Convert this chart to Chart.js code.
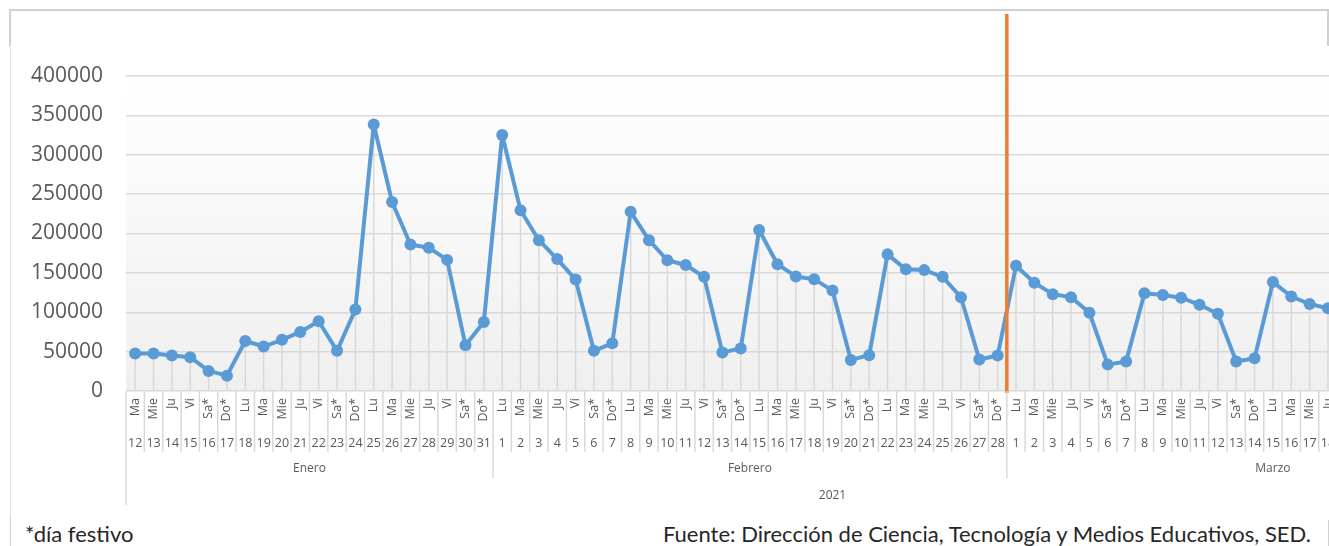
<!DOCTYPE html>
<html lang="es">
<head>
<meta charset="utf-8">
<script src="https://cdn.jsdelivr.net/npm/chart.js@4.4.1/dist/chart.umd.min.js"></script>
<style>
  html, body { margin: 0; padding: 0; background: #fff; overflow: hidden; }
  #wrap { position: relative; width: 1329px; height: 546px; overflow: hidden; }
  canvas { position: absolute; left: 0; top: 0; }
  .linea { position: absolute; background: #d0d0d0; }
  .nota { position: absolute; top: 520px; font-family: Lato, "Open Sans", sans-serif; font-size: 22px; color: #262626; white-space: nowrap; }
</style>
</head>
<body>
<div id="wrap">
  <div class="linea" style="left:9px;top:9px;width:1320px;height:2px"></div>
  <div class="linea" style="left:9px;top:9px;width:2px;height:37px"></div>
  <div class="linea" style="left:10px;top:46px;width:1px;height:472px;background:#e2e2e2"></div>
  <div class="linea" style="left:1327px;top:9px;width:2px;height:37px"></div>
  <div class="linea" style="left:10px;top:515px;width:1px;height:31px"></div>
  <div class="linea" style="left:1328px;top:520px;width:1px;height:26px"></div>
  <canvas id="grafico" width="1545" height="520"></canvas>
  <div class="nota" style="left:25px">*día festivo</div>
  <div class="nota" style="right:18px">Fuente: Dirección de Ciencia, Tecnología y Medios Educativos, SED.</div>
</div>
<script>
// Dias de la semana (* = dia festivo)
const diasEnero = ["Ma","Mie","Ju","Vi","Sa*","Do*","Lu","Ma","Mie","Ju","Vi","Sa*","Do*","Lu","Ma","Mie","Ju","Vi","Sa*","Do*"];
const diasFebrero = ["Lu","Ma","Mie","Ju","Vi","Sa*","Do*","Lu","Ma","Mie","Ju","Vi","Sa*","Do*",
  "Lu","Ma","Mie","Ju","Vi","Sa*","Do*","Lu","Ma","Mie","Ju","Vi","Sa*","Do*"];
const diasMarzo = ["Lu","Ma","Mie","Ju","Vi","Sa*","Do*","Lu","Ma","Mie","Ju","Vi","Sa*","Do*",
  "Lu","Ma","Mie","Ju","Vi","Sa*","Do*","Lu","Ma","Mie","Ju","Vi","Sa*","Do*","Lu"];

const numEnero = [12,13,14,15,16,17,18,19,20,21,22,23,24,25,26,27,28,29,30,31];
const numFebrero = [1,2,3,4,5,6,7,8,9,10,11,12,13,14,15,16,17,18,19,20,21,22,23,24,25,26,27,28];
const numMarzo = [1,2,3,4,5,6,7,8,9,10,11,12,13,14,15,16,17,18,19,20,21,22,23,24,25,26,27,28,29];

const meses = ["Enero", "Febrero", "Marzo"];
const anio = "2021";

// Valores
const valoresEnero = [47500,47500,45000,43000,25500,19500,63500,56500,65000,75000,
  88500,51000,103500,338500,240000,186000,182000,166500,58000,87500];
const valoresFebrero = [325000,229500,191500,167500,141500,51000,60500,227500,191500,166000,
  160000,145000,49000,54000,204500,161000,145500,142000,127500,39500,
  45500,173500,154500,153500,145000,119000,40000,45000];
const valoresMarzo = [159000,137500,123000,119000,99500,33500,37500,124000,122000,118500,
  109500,98000,37500,41500,138500,120000,110500,105000];

const yTicks = [0,50000,100000,150000,200000,250000,300000,350000,400000];

const diasSemana = [...diasEnero, ...diasFebrero, ...diasMarzo];
const diasNum = [...numEnero, ...numFebrero, ...numMarzo];
const gruposMes = [numEnero.length, numFebrero.length, numMarzo.length];
const valores = [...valoresEnero, ...valoresFebrero, ...valoresMarzo];

const gris = "#d9d9d9";
const texto = "#595959";

// fondo degradado del area de trazado
const fondo = {
  id: "fondo",
  beforeDraw(chart) {
    const { ctx, chartArea: a } = chart;
    const g = ctx.createLinearGradient(0, a.top, 0, a.bottom);
    g.addColorStop(0, "#ffffff");
    g.addColorStop(1, "#efefef");
    ctx.save();
    ctx.fillStyle = g;
    ctx.fillRect(a.left, a.top, a.right - a.left, a.bottom - a.top);
    ctx.restore();
  }
};

// lineas de caida desde cada punto
const caida = {
  id: "caida",
  beforeDatasetsDraw(chart) {
    const { ctx, chartArea: a } = chart;
    ctx.save();
    ctx.strokeStyle = gris;
    ctx.lineWidth = 1.5;
    chart.getDatasetMeta(0).data.forEach((p) => {
      if (p.skip) return;
      ctx.beginPath();
      ctx.moveTo(p.x, p.y);
      ctx.lineTo(p.x, a.bottom);
      ctx.stroke();
    });
    ctx.restore();
  }
};

// linea naranja entre febrero y marzo
const corte = {
  id: "corte",
  afterDatasetsDraw(chart) {
    const { ctx, chartArea: a } = chart;
    const x = chart.scales.x;
    const i = numEnero.length + numFebrero.length;
    const px = (x.getPixelForValue(i - 1) + x.getPixelForValue(i)) / 2;
    ctx.save();
    ctx.strokeStyle = "#ED7D31";
    ctx.lineWidth = 3.5;
    ctx.beginPath();
    ctx.moveTo(px, 14);
    ctx.lineTo(px, a.bottom + 2);
    ctx.stroke();
    ctx.restore();
  }
};

// etiquetas de varios niveles del eje x
const ejeX = {
  id: "ejeX",
  afterDraw(chart) {
    const { ctx, chartArea: a } = chart;
    const n = diasNum.length;
    const w = (a.right - a.left) / n;
    const top = a.bottom;
    ctx.save();
    ctx.strokeStyle = gris;
    ctx.lineWidth = 1.5;
    // separadores
    const limitesMes = [0];
    gruposMes.forEach((c) => limitesMes.push(limitesMes[limitesMes.length - 1] + c));
    for (let i = 0; i <= n; i++) {
      const bx = a.left + i * w;
      let fin = top + 61;
      if (limitesMes.includes(i)) fin = top + 87;
      if (i === 0 || i === n) fin = top + 114;
      ctx.beginPath();
      ctx.moveTo(bx, top);
      ctx.lineTo(bx, fin);
      ctx.stroke();
    }
    ctx.fillStyle = texto;
    // dias de la semana, rotados
    ctx.font = "12.5px 'Open Sans'";
    ctx.textAlign = "right";
    ctx.textBaseline = "middle";
    for (let i = 0; i < n; i++) {
      const cx = a.left + (i + 0.5) * w;
      ctx.save();
      ctx.translate(cx, top + 7);
      ctx.rotate(-Math.PI / 2);
      ctx.fillText(diasSemana[i], 0, 0);
      ctx.restore();
    }
    // numero del dia
    ctx.font = "12.5px 'Open Sans'";
    ctx.textAlign = "center";
    for (let i = 0; i < n; i++) {
      ctx.fillText(String(diasNum[i]), a.left + (i + 0.5) * w, top + 52);
    }
    // meses
    ctx.font = "12px 'Open Sans'";
    meses.forEach((m, k) => {
      const cx = a.left + ((limitesMes[k] + limitesMes[k + 1]) / 2) * w;
      ctx.fillText(m, cx, top + 78);
    });
    // anio
    ctx.fillText(anio, (a.left + a.right) / 2, top + 105);
    ctx.restore();
  }
};

const ctx = document.getElementById("grafico").getContext("2d");

new Chart(ctx, {
  type: "line",
  data: {
    labels: diasNum.map(String),
    datasets: [
      {
        label: "Total",
        data: valores,
        borderColor: "#5B9BD5",
        backgroundColor: "#5B9BD5",
        borderWidth: 4,
        borderJoinStyle: "round",
        borderCapStyle: "round",
        pointRadius: 6,
        pointBorderWidth: 0,
        pointBackgroundColor: "#5B9BD5",
        tension: 0,
        fill: false,
      },
    ],
  },
  options: {
    responsive: false,
    animation: false,
    devicePixelRatio: 1,
    layout: { padding: { top: 76, right: 5, left: 0, bottom: 0 } },
    plugins: {
      legend: { display: false },
      tooltip: { enabled: false },
    },
    scales: {
      x: {
        type: "category",
        offset: true,
        grid: { display: false },
        border: { display: false },
        ticks: { display: false },
        afterFit: (s) => { s.height = 129; },
      },
      y: {
        min: 0,
        max: 400000,
        afterBuildTicks: (s) => { s.ticks = yTicks.map((v) => ({ value: v })); },
        grid: { color: gris, lineWidth: 1.5, drawTicks: false },
        border: { display: false },
        ticks: {
          padding: 23,
          color: texto,
          font: { family: "'Open Sans'", size: 21 },
          callback: (v) => String(v),
        },
        afterFit: (s) => { s.width = 126; },
      },
    },
  },
  plugins: [fondo, caida, corte, ejeX],
});
</script>
</body>
</html>
